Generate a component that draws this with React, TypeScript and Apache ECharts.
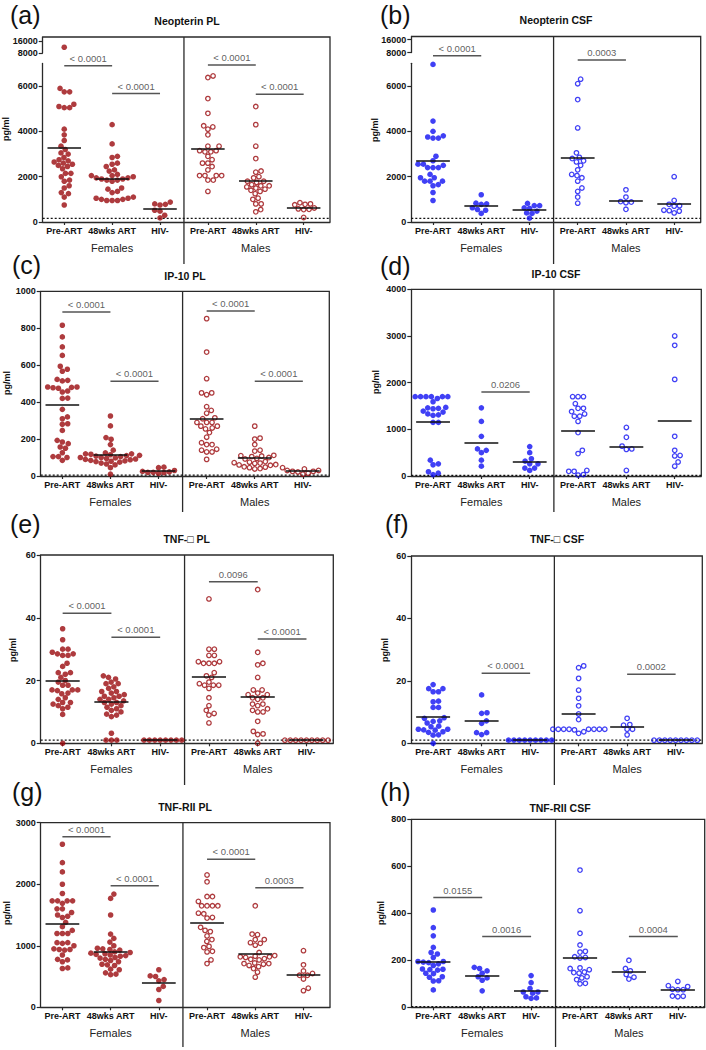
import React, { useEffect, useRef } from "react";
import * as echarts from "echarts";

// ---------- data ----------
const CATEGORIES = ["Pre-ART", "48wks ART", "HIV-", "Pre-ART", "48wks ART", "HIV-"];
const GROUPS = ["Females", "Males"];

// each list: [F Pre-ART, F 48wks ART, F HIV-, M Pre-ART, M 48wks ART, M HIV-]
const neopterinPL = [
  [12000, 5900, 5750, 5750, 5200, 5100, 5050, 5050, 4100, 3850, 3600, 3350, 3200, 3050, 3000, 2850, 2750, 2700, 2650, 2600, 2550, 2500, 2450, 2350, 2150, 2150, 2000, 1850, 1800, 1600, 1500, 1300, 1250, 1100, 750],
  [4300, 3450, 2900, 2850, 2600, 2550, 2450, 2300, 2250, 2100, 2050, 2050, 2000, 1950, 1950, 1900, 1900, 1850, 1850, 1800, 1500, 1450, 1350, 1300, 1100, 1050, 1050, 1000, 1000, 950, 950, 950],
  [880, 800, 780, 750, 520, 480, 300, 180],
  [6450, 6380, 5450, 4800, 4250, 4200, 4100, 3850, 3350, 3350, 3150, 3150, 3100, 3100, 2900, 2750, 2600, 2600, 2450, 2300, 2050, 2050, 2050, 2050, 1850, 1850, 1350],
  [5100, 4300, 3350, 2800, 2250, 2200, 2000, 1950, 1800, 1800, 1750, 1650, 1600, 1600, 1550, 1500, 1450, 1400, 1350, 1250, 1050, 1000, 800, 800, 550, 450],
  [850, 800, 780, 760, 620, 580, 560, 550, 200],
];
const neopterinCSF = [
  [6950, 4450, 4000, 3750, 3700, 3700, 3800, 2900, 2550, 2700, 2550, 2500, 2400, 2400, 2400, 2100, 1950, 1950, 1800, 1800, 1650, 1600, 1800, 1300, 950],
  [1200, 830, 780, 800, 550, 380, 630, 520],
  [720, 820, 720, 620, 600, 480, 400, 380, 170],
  [6300, 6100, 5400, 4150, 3050, 2850, 2800, 2700, 2650, 2500, 2300, 2100, 2050, 1950, 1800, 1500, 1350, 1100, 830],
  [1420, 1100, 880, 900, 850, 560],
  [2000, 950, 700, 780, 720, 500, 400, 480, 520],
];
const ip10PL = [
  [816, 753, 699, 653, 594, 578, 567, 523, 518, 515, 482, 482, 480, 478, 475, 460, 455, 422, 420, 361, 320, 310, 283, 280, 247, 193, 184, 175, 157, 150, 126, 105, 100, 105, 85],
  [325, 271, 208, 199, 170, 140, 125, 120, 120, 118, 115, 112, 110, 108, 105, 100, 100, 98, 95, 92, 90, 88, 85, 82, 80, 78, 75, 70, 65, 60, 45, 10],
  [48, 45, 30, 25, 22, 20, 18, 20, 15],
  [852, 671, 527, 450, 440, 450, 375, 355, 340, 310, 315, 290, 290, 290, 270, 270, 260, 255, 235, 210, 180, 170, 170, 145, 130, 130, 140, 90],
  [270, 205, 200, 170, 135, 140, 112, 110, 108, 105, 100, 95, 92, 78, 75, 72, 70, 68, 62, 60, 58, 50, 48, 45, 40, 38],
  [45, 30, 25, 22, 15, 10, 25, 30, 38],
];
const ip10CSF = [
  [1700, 1700, 1700, 1700, 1700, 1700, 1660, 1590, 1470, 1460, 1450, 1440, 1390, 1370, 1330, 1310, 1300, 1150, 1150, 340, 260, 240, 90, 60, 30],
  [1460, 1170, 850, 550, 580, 500, 340, 210],
  [630, 500, 370, 260, 260, 320, 170, 120, 170],
  [1700, 1700, 1700, 1550, 1450, 1450, 1380, 1330, 1280, 1280, 1170, 930, 550, 480, 120, 100, 30, 20, 100],
  [1040, 830, 580, 570, 640, 120],
  [3000, 2800, 2070, 850, 440, 430, 550, 300, 210],
];
const tnfPL = [
  [36.5, 33, 30, 30, 29, 28.5, 28.5, 28, 28, 25.5, 24.5, 22.5, 22.5, 22, 21, 20, 19.5, 18.5, 18.5, 17, 17, 17, 16.8, 16, 15.8, 14.5, 14, 13, 13, 12.5, 12, 11.5, 11, 9.2, 0],
  [21.5, 21, 20.5, 19.5, 19, 19, 18, 17.5, 16.5, 16.5, 16, 15.5, 15, 15, 14.5, 14, 14, 13.5, 13, 13, 12.5, 12, 11.5, 11, 10.5, 10, 9.3, 9, 8.5, 3.2, 1, 1, 1],
  [1, 1, 1, 1, 1, 1, 1, 1],
  [46, 30, 30, 28, 28, 26, 26, 25.5, 25.5, 25.5, 22.5, 21.5, 21, 19.5, 19, 18.5, 18.5, 18.5, 17.5, 14.5, 12, 10.5, 9.5, 9, 6.5],
  [49, 29, 25.5, 25, 21, 17, 17, 16, 15.5, 15.5, 14.5, 14, 14.5, 12.5, 12.5, 12, 11, 10.5, 10, 10, 7, 3.8, 3, 2.8, 0],
  [1, 1, 1, 1, 1, 1, 1, 1, 1],
];
const tnfCSF = [
  [18.8, 17.5, 17.5, 16.5, 16.5, 13.5, 13.3, 11.5, 11.5, 8.2, 8, 7.2, 7, 6.5, 5.5, 5.3, 4.5, 4.5, 4.3, 4.2, 3.7, 3.5, 2.7, 2.6, 0],
  [15.5, 9.6, 9.8, 6.4, 7.2, 3.4, 3.4, 2.8],
  [1, 1, 1, 1, 1, 1, 1, 1, 1],
  [24.8, 24.2, 20.8, 17, 14.4, 12, 9.4, 7.6, 4.5, 4.5, 4.5, 4.5, 4.5, 4.5, 4.5, 4.5, 4.3, 3.7, 3.2],
  [8, 6, 5.8, 4.5, 4.5, 2.7],
  [1, 1, 1, 1, 1, 1, 1, 1, 1],
];
const tnfr2PL = [
  [2650, 2350, 2200, 2000, 1850, 1730, 1730, 1730, 1730, 1690, 1600, 1600, 1540, 1500, 1480, 1460, 1380, 1310, 1250, 1200, 1200, 1200, 1050, 1050, 1040, 1000, 950, 940, 940, 930, 850, 780, 770, 740, 640, 630],
  [1840, 1770, 1500, 1190, 1120, 1060, 1000, 960, 950, 940, 930, 900, 890, 880, 870, 860, 850, 840, 830, 810, 800, 780, 760, 740, 700, 690, 680, 620, 610, 560, 540, 530],
  [610, 510, 500, 450, 430, 340, 290, 110],
  [2150, 2040, 1800, 1800, 1720, 1650, 1650, 1650, 1650, 1530, 1520, 1460, 1450, 1300, 1250, 1230, 1160, 1100, 1070, 990, 970, 910, 900, 770, 710],
  [1650, 1190, 1180, 1100, 1100, 1050, 1040, 1010, 890, 840, 830, 820, 820, 810, 790, 780, 770, 720, 710, 710, 700, 680, 660, 630, 570, 490],
  [920, 690, 590, 520, 520, 460, 310, 270, 550],
];
const tnfr2CSF = [
  [414, 339, 304, 255, 233, 227, 212, 195, 195, 192, 190, 185, 178, 163, 162, 160, 158, 145, 143, 130, 128, 113, 112, 74],
  [165, 170, 155, 145, 125, 115, 70, 130],
  [135, 105, 80, 65, 60, 40, 45, 38, 65],
  [584, 411, 315, 265, 238, 235, 215, 212, 210, 168, 165, 160, 150, 148, 145, 130, 125, 118, 102, 100],
  [200, 165, 155, 140, 120, 128],
  [110, 88, 92, 75, 77, 75, 48, 47, 45],
];

// significance brackets: [from category, to category, height, p-value]
const bracketsA: [number, number, number, string][] = [[0, 1, 6900, "< 0.0001"], [1, 2, 5670, "< 0.0001"], [3, 4, 6930, "< 0.0001"], [4, 5, 5640, "< 0.0001"]];
const bracketsB: [number, number, number, string][] = [[0, 1, 7330, "< 0.0001"], [3, 4, 7150, "0.0003"]];
const bracketsC: [number, number, number, string][] = [[0, 1, 888, "< 0.0001"], [1, 2, 513, "< 0.0001"], [3, 4, 893, "< 0.0001"], [4, 5, 513, "< 0.0001"]];
const bracketsD: [number, number, number, string][] = [[1, 2, 1800, "0.0206"]];
const bracketsE: [number, number, number, string][] = [[0, 1, 41.4, "< 0.0001"], [1, 2, 33.8, "< 0.0001"], [3, 4, 51.5, "0.0096"], [4, 5, 33.2, "< 0.0001"]];
const bracketsF: [number, number, number, string][] = [[1, 2, 22.4, "< 0.0001"], [4, 5, 22.1, "0.0002"]];
const bracketsG: [number, number, number, string][] = [[0, 1, 2772, "< 0.0001"], [1, 2, 1976, "< 0.0001"], [3, 4, 2404, "< 0.0001"], [4, 5, 1944, "0.0003"]];
const bracketsH: [number, number, number, string][] = [[0, 1, 467, "0.0155"], [1, 2, 301, "0.0016"], [4, 5, 301, "0.0004"]];

// ---------- styling / layout ----------
const FONT = '"Liberation Sans", Arial, Helvetica, sans-serif';
const RED = "#9A0A0E";
const BLUE = "#1010F2";
const AX = "#2a2a2a";
const XMIN = -0.45;
const XMAX = 5.55;
const DOT = 5.4;

type Brk = { lowMax: number; lowTop: number; upTop: number; upBottom: number; upMin: number; upMax: number; upTicks: number[]; lowTicks: number[] };
type Panel = {
  tag: string; title: string; data: number[][]; color: string; brackets: [number, number, number, string][];
  L: number; R: number; top: number; bottom: number; ymax: number; interval: number; brk?: Brk;
  lod: number | null; titleXY: [number, number]; tagXY: [number, number]; pgXY: [number, number]; divBottom: number;
};

const brkA: Brk = { lowMax: 7000, lowTop: 63.5, upTop: 37, upBottom: 53, upMin: 8000, upMax: 19130, upTicks: [8000, 16000], lowTicks: [0, 2000, 4000, 6000] };
const brkB: Brk = { lowMax: 7000, lowTop: 63.3, upTop: 36.5, upBottom: 52.5, upMin: 8000, upMax: 17850, upTicks: [8000, 16000], lowTicks: [0, 2000, 4000, 6000] };

const panels: Panel[] = [
  { tag: "(a)", title: "Neopterin PL", data: neopterinPL, color: RED, brackets: bracketsA, L: 42.7, R: 330, top: 37, bottom: 222, ymax: 7000, interval: 2000, brk: brkA, lod: 160, titleXY: [187, 20.7], tagXY: [10, 14.5], pgXY: [5.5, 129], divBottom: 264 },
  { tag: "(b)", title: "Neopterin CSF", data: neopterinCSF, color: BLUE, brackets: bracketsB, L: 411.3, R: 700.7, top: 36.5, bottom: 222, ymax: 7000, interval: 2000, brk: brkB, lod: 160, titleXY: [556, 20], tagXY: [380, 14.5], pgXY: [375, 130], divBottom: 264 },
  { tag: "(c)", title: "IP-10 PL", data: ip10PL, color: RED, brackets: bracketsC, L: 40.7, R: 329.3, top: 291.3, bottom: 476, ymax: 1000, interval: 200, lod: 5, titleXY: [185, 276], tagXY: [12, 264.5], pgXY: [6.5, 383], divBottom: 512 },
  { tag: "(d)", title: "IP-10 CSF", data: ip10CSF, color: BLUE, brackets: bracketsD, L: 411.3, R: 701.3, top: 289.3, bottom: 476, ymax: 4000, interval: 1000, lod: 15, titleXY: [556, 273.7], tagXY: [380, 266], pgXY: [376, 382], divBottom: 512 },
  { tag: "(e)", title: "TNF-\u25A1 PL", data: tnfPL, color: RED, brackets: bracketsE, L: 40.7, R: 333.3, top: 555, bottom: 743.3, ymax: 60, interval: 20, lod: 1, titleXY: [186.7, 539.3], tagXY: [10, 523.5], pgXY: [13, 650], divBottom: 785 },
  { tag: "(f)", title: "TNF-\u25A1 CSF", data: tnfCSF, color: BLUE, brackets: bracketsF, L: 411.3, R: 702.3, top: 556, bottom: 743.3, ymax: 60, interval: 20, lod: 1, titleXY: [557, 539.3], tagXY: [385, 523.5], pgXY: [385, 650], divBottom: 785 },
  { tag: "(g)", title: "TNF-RII PL", data: tnfr2PL, color: RED, brackets: bracketsG, L: 40.7, R: 330, top: 822.7, bottom: 1007.3, ymax: 3000, interval: 1000, lod: null, titleXY: [185, 806.7], tagXY: [12, 791.5], pgXY: [6.5, 913], divBottom: 1047 },
  { tag: "(h)", title: "TNF-RII CSF", data: tnfr2CSF, color: BLUE, brackets: bracketsH, L: 411.3, R: 704.7, top: 819.3, bottom: 1007.3, ymax: 800, interval: 200, lod: 3, titleXY: [560, 808.3], tagXY: [380, 791.5], pgXY: [381, 913], divBottom: 1047 },
];

// beeswarm: horizontal pixel offsets so that dots of diameter d do not overlap
function swarm(vals: number[], pxPerUnit: number, d: number): number[] {
  const order = vals.map((_, i) => i).sort((a, b) => vals[a] - vals[b] || a - b);
  const placed: { x: number; y: number }[] = [];
  const out = new Array(vals.length).fill(0);
  for (const i of order) {
    const y = vals[i] * pxPerUnit;
    const cands = [0];
    for (const q of placed) {
      const dy = Math.abs(q.y - y);
      if (dy < d) {
        const dx = Math.sqrt(d * d - dy * dy);
        cands.push(q.x + dx, q.x - dx);
      }
    }
    cands.sort((a, b) => Math.abs(a) - Math.abs(b) || b - a);
    let x = 0;
    for (const c of cands) {
      if (placed.every((q) => (q.x - c) ** 2 + (q.y - y) ** 2 >= d * d - 1e-6)) {
        x = c;
        break;
      }
    }
    placed.push({ x, y });
    out[i] = x;
  }
  return out;
}

const mean = (a: number[]) => a.reduce((s, v) => s + v, 0) / a.length;
const plain = (v: number) => String(v);

function buildOption() {
  const grid: any[] = [];
  const xAxis: any[] = [];
  const yAxis: any[] = [];
  const series: any[] = [];
  const graphic: any[] = [];
  const catIdx = [0, 1, 2, 3, 4, 5];
  const tickLabel = { fontSize: 9, fontWeight: "bold", color: "#111", fontFamily: FONT };

  panels.forEach((p) => {
    const width = p.R - p.L;
    const lowTop = p.brk ? p.brk.lowTop : p.top;
    const lowMax = p.brk ? p.brk.lowMax : p.ymax;
    const pxX = width / (XMAX - XMIN);

    // main (lower) grid
    const gi = grid.length;
    grid.push({ left: p.L, top: lowTop, width, height: p.bottom - lowTop });
    const xi = xAxis.length;
    xAxis.push({
      gridIndex: gi, type: "value", min: XMIN, max: XMAX, position: "bottom",
      axisLine: { show: true, onZero: false, lineStyle: { color: AX, width: 1.3 } },
      axisTick: { show: true, customValues: catIdx, length: 3, lineStyle: { color: AX, width: 1.2 } },
      axisLabel: { customValues: catIdx, formatter: (v: number) => CATEGORIES[Math.round(v)], margin: 4, ...tickLabel },
      splitLine: { show: false },
    });
    xAxis.push({
      gridIndex: gi, type: "value", min: XMIN, max: XMAX, position: "bottom",
      axisLine: { show: false }, axisTick: { show: false }, splitLine: { show: false },
      axisLabel: { customValues: [1, 4], formatter: (v: number) => (v < 2.5 ? GROUPS[0] : GROUPS[1]), margin: 20, fontSize: 11, color: "#222", fontFamily: FONT },
    });
    const yi = yAxis.length;
    const lowTicks = p.brk ? p.brk.lowTicks : undefined;
    yAxis.push({
      gridIndex: gi, type: "value", min: 0, max: lowMax, interval: p.interval, position: "left",
      axisLine: { show: true, onZero: false, lineStyle: { color: AX, width: 1.3 } },
      axisTick: { show: true, length: 4, lineStyle: { color: AX, width: 1.2 }, ...(lowTicks ? { customValues: lowTicks } : {}) },
      axisLabel: { margin: 5, formatter: plain, ...tickLabel, ...(lowTicks ? { customValues: lowTicks } : {}) },
      splitLine: { show: false },
    });

    // upper (broken) segment
    let xu = -1, yu = -1;
    if (p.brk) {
      const b = p.brk;
      const gu = grid.length;
      grid.push({ left: p.L, top: b.upTop, width, height: b.upBottom - b.upTop });
      xu = xAxis.length;
      xAxis.push({ gridIndex: gu, type: "value", min: XMIN, max: XMAX, show: false, splitLine: { show: false } });
      yu = yAxis.length;
      yAxis.push({
        gridIndex: gu, type: "value", min: b.upMin, max: b.upMax, position: "left",
        axisLine: { show: true, onZero: false, lineStyle: { color: AX, width: 1.3 } },
        axisTick: { show: true, length: 4, customValues: b.upTicks, lineStyle: { color: AX, width: 1.2 } },
        axisLabel: { margin: 5, customValues: b.upTicks, formatter: plain, ...tickLabel },
        splitLine: { show: false },
      });
    }

    // detection limit
    if (p.lod !== null) {
      series.push({
        type: "line", xAxisIndex: xi, yAxisIndex: yi, data: [[XMIN, p.lod], [XMAX, p.lod]],
        symbol: "none", silent: true, z: 1, lineStyle: { color: "#111", width: 1.3, type: [2, 2] },
      });
    }

    // dots + mean lines
    p.data.forEach((vals, c) => {
      const female = c < 3;
      const m = mean(vals);
      const itemStyle = female ? { color: p.color } : { color: "transparent", borderColor: p.color, borderWidth: 1.3 };
      const size = female ? 5.6 : 4.5;
      const low = vals.filter((v) => v <= lowMax);
      const offs = swarm(low, (p.bottom - lowTop) / lowMax, DOT);
      series.push({
        type: "scatter", xAxisIndex: xi, yAxisIndex: yi, silent: true, clip: false, z: 3,
        data: low.map((v, i) => [c + offs[i] / pxX, v]),
        symbol: "circle", symbolSize: size, itemStyle,
        markLine: {
          silent: true, symbol: ["none", "none"], label: { show: false }, z: 4,
          lineStyle: { color: "#111", width: 1.6, type: "solid" },
          emphasis: { disabled: true },
          data: [[{ coord: [c - 0.35, m] }, { coord: [c + 0.35, m] }]],
        },
      });
      if (p.brk) {
        const b = p.brk;
        const up = vals.filter((v) => v > lowMax);
        if (up.length) {
          const uo = swarm(up.map((v) => v - b.upMin), (b.upBottom - b.upTop) / (b.upMax - b.upMin), DOT);
          series.push({
            type: "scatter", xAxisIndex: xu, yAxisIndex: yu, silent: true, clip: false, z: 3,
            data: up.map((v, i) => [c + uo[i] / pxX, v]),
            symbol: "circle", symbolSize: size, itemStyle,
          });
        }
      }
    });

    // significance brackets
    p.brackets.forEach(([a, b, y, txt]) => {
      series.push({
        type: "line", xAxisIndex: xi, yAxisIndex: yi, data: [[a, y], [b, y]], clip: false,
        symbol: "none", silent: true, z: 2, lineStyle: { color: "#555", width: 1.5 },
      });
      series.push({
        type: "scatter", xAxisIndex: xi, yAxisIndex: yi, clip: false, silent: true, z: 2,
        data: [{ value: [(a + b) / 2, y], name: txt }],
        symbol: "circle", symbolSize: 1, itemStyle: { color: "transparent" },
        label: { show: true, position: "top", distance: 2, formatter: "{b}", color: "#333", fontSize: 9.5, fontFamily: FONT },
      });
    });

    // frame (top + right), group divider, texts
    const xDiv = p.L + (2.5 - XMIN) * pxX;
    graphic.push({
      type: "polyline", silent: true,
      shape: { points: [[p.L, p.top], [p.R, p.top], [p.R, p.bottom]] },
      style: { stroke: AX, lineWidth: 1.3, fill: null },
    });
    graphic.push({
      type: "line", silent: true,
      shape: { x1: xDiv, y1: p.top, x2: xDiv, y2: p.divBottom },
      style: { stroke: AX, lineWidth: 1.3 },
    });
    graphic.push({
      type: "text", silent: true, x: p.titleXY[0], y: p.titleXY[1],
      style: { text: p.title, fill: "#111", font: `bold 10.5px ${FONT}`, align: "center", verticalAlign: "middle" },
    });
    graphic.push({
      type: "text", silent: true, x: p.tagXY[0], y: p.tagXY[1],
      style: { text: p.tag, fill: "#111", font: `25px ${FONT}`, align: "left", verticalAlign: "middle" },
    });
    graphic.push({
      type: "text", silent: true, x: p.pgXY[0], y: p.pgXY[1], rotation: Math.PI / 2,
      style: { text: "pg/ml", fill: "#111", font: `bold 9px ${FONT}`, align: "center", verticalAlign: "middle" },
    });
  });

  return {
    animation: false,
    backgroundColor: "#ffffff",
    textStyle: { fontFamily: FONT },
    grid, xAxis, yAxis, series, graphic,
  };
}

export default function App() {
  const ref = useRef<HTMLDivElement>(null);
  useEffect(() => {
    if (!ref.current) return;
    const chart = echarts.init(ref.current, undefined, { renderer: "svg" });
    chart.setOption(buildOption() as any);
    return () => chart.dispose();
  }, []);
  return (
    <div
      ref={ref}
      style={{ position: "absolute", left: 0, top: 0, width: 706, height: 1050, background: "#fff" }}
    />
  );
}
